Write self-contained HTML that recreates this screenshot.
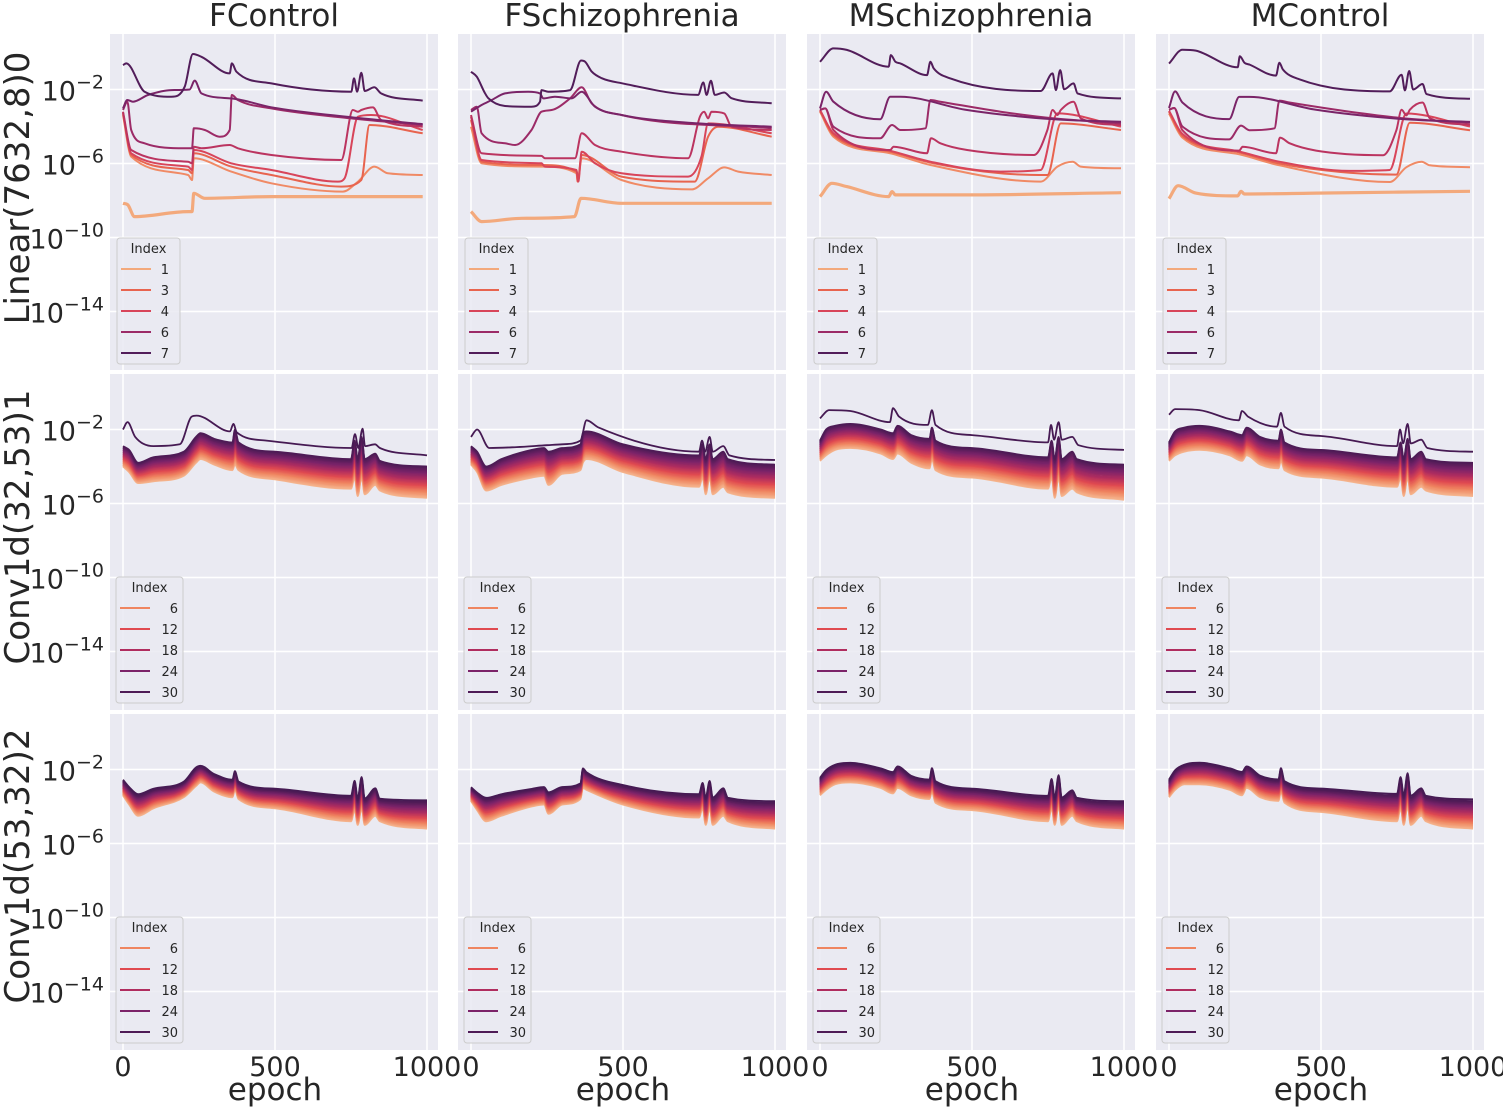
<!DOCTYPE html>
<html><head><meta charset="utf-8"><style>
html,body{margin:0;padding:0;background:#fff;}
svg{display:block;font-family:"DejaVu Sans","Liberation Sans",sans-serif;}
</style></head><body>
<svg id="chart" width="1503" height="1107" viewBox="0 0 1503 1107" xmlns="http://www.w3.org/2000/svg"></svg>
<script>
// ---------- DATA ----------
const COLUMNS = ["FControl","FSchizophrenia","MSchizophrenia","MControl"];
const ROW_LABELS = ["Linear(7632,8)0","Conv1d(32,53)1","Conv1d(53,32)2"];
const Y_TICKS = [-2,-6,-10,-14];
const X_TICKS = [0,500,1000];
const X_TICK_LABELS = ["0","500","1000"];
const LIN_LEGEND = ["1","3","4","6","7"];
const LIN_LEGEND_IDX = [0,2,3,5,7];
const CONV_LEGEND = ["6","12","18","24","30"];
const CONV_LEGEND_IDX = [6,12,18,24,30];

// Linear layer, log10 values per index line (0..7)
const FC_LIN_E = [
 [0,16,38,214,227,233,269,488,986],
 [0,27,214,227,233,356,488,723,773,827,871,986],
 [0,27,214,227,233,356,488,718,784,811,986],
 [0,27,214,227,233,356,488,707,729,773,816,986],
 [0,27,214,227,233,258,351,378,488,718,756,773,784,822,849,986],
 [0,14,27,71,203,227,233,269,318,351,358,378,488,751,986],
 [0,14,33,82,159,219,236,258,356,488,751,986],
 [0,11,71,159,203,230,258,351,358,373,488,751,760,770,784,795,827,849,986]];
const FC_LIN_V = [
 [-8.15,-8.24,-8.87,-8.6,-8.6,-7.61,-7.88,-7.79,-7.79],
 [-3.38,-5.63,-6.62,-6.89,-5.72,-6.44,-7.07,-7.52,-6.98,-6.17,-6.53,-6.62],
 [-3.29,-5.54,-6.35,-6.53,-5.45,-6.17,-6.62,-7.25,-6.89,-3.92,-4.37],
 [-3.25,-5.45,-6.17,-6.35,-5.27,-5.99,-6.35,-6.98,-6.8,-3.47,-3.38,-4.19],
 [-3.2,-5.27,-5.9,-5.99,-5.09,-5.18,-5.0,-5.18,-5.54,-5.81,-3.11,-3.2,-3.11,-2.97,-3.65,-4.01],
 [-3.11,-2.66,-4.19,-4.91,-5.18,-5.18,-4.1,-4.19,-4.55,-4.19,-2.3,-2.57,-3.02,-3.56,-3.92],
 [-3.02,-2.57,-2.66,-2.3,-2.03,-2.0,-1.52,-2.21,-2.48,-2.96,-3.5,-3.87],
 [-0.68,-0.59,-2.12,-2.39,-1.85,-0.08,-0.23,-1.13,-0.59,-1.04,-1.67,-2.12,-1.4,-2.12,-1.09,-2.08,-1.88,-2.21,-2.6]];

const FS_LIN_E = [
 [0,35,167,340,362,495,989],
 [0,35,232,347,351,364,495,726,780,833,879,989],
 [0,35,232,347,351,364,495,736,780,813,989],
 [0,35,232,243,347,353,364,408,495,714,758,780,989],
 [0,35,232,243,342,364,408,495,714,753,767,780,791,833,857,989],
 [0,19,35,112,145,199,232,265,326,364,397,495,989],
 [0,35,68,112,188,227,238,276,331,364,408,495,747,989],
 [0,19,46,57,112,199,227,232,254,326,362,375,397,430,495,747,764,775,789,802,833,857,989]];
const FS_LIN_V = [
 [-8.6,-9.14,-8.96,-8.87,-7.88,-8.15,-8.15],
 [-4.01,-5.99,-6.17,-6.53,-6.98,-5.72,-6.89,-7.4,-6.8,-6.21,-6.44,-6.62],
 [-3.65,-5.9,-6.08,-6.44,-6.98,-5.54,-6.71,-6.98,-4.55,-4.01,-4.55],
 [-3.47,-5.81,-5.99,-6.17,-6.35,-6.98,-5.36,-5.99,-6.53,-6.71,-5.63,-3.83,-4.37],
 [-3.38,-5.45,-5.59,-5.72,-5.72,-4.37,-5.0,-5.36,-5.72,-3.47,-3.2,-3.56,-3.2,-3.29,-4.01,-4.19],
 [-3.11,-2.93,-4.37,-4.91,-5.0,-4.19,-3.2,-3.11,-2.48,-1.88,-2.75,-3.38,-4.1],
 [-3.2,-2.84,-2.57,-2.21,-2.12,-2.21,-2.48,-2.39,-2.48,-2.12,-2.93,-3.38,-3.83,-4.01],
 [-1.04,-1.31,-2.2,-2.47,-2.89,-2.93,-2.66,-2.03,-2.12,-2.03,-0.43,-0.49,-1.03,-1.39,-1.66,-2.29,-1.62,-2.29,-1.53,-2.29,-2.16,-2.47,-2.74]];

const MS_LIN_E = [
 [0,39,88,226,237,248,484,990],
 [0,44,231,363,726,781,831,858,990],
 [0,44,231,363,594,748,792,990],
 [0,44,231,363,594,726,781,990],
 [0,17,44,231,242,352,365,396,484,704,748,765,781,792,834,858,990],
 [0,17,44,198,237,264,347,363,396,594,770,990],
 [0,20,44,198,231,264,484,770,990],
 [0,44,88,226,233,248,264,352,363,374,429,726,765,776,790,803,834,847,990]];
const MS_LIN_V = [
 [-7.79,-7.07,-7.25,-7.79,-7.52,-7.7,-7.7,-7.58],
 [-3.2,-4.55,-5.45,-6.08,-6.98,-6.17,-5.9,-6.17,-6.26],
 [-3.14,-4.46,-5.36,-5.95,-6.53,-6.62,-3.83,-4.19],
 [-3.11,-4.37,-5.31,-5.9,-6.44,-6.35,-3.29,-4.01],
 [-3.11,-3.02,-4.19,-5.27,-5.09,-5.45,-4.64,-4.91,-5.27,-5.54,-4.19,-3.11,-3.38,-3.11,-2.66,-3.56,-3.92],
 [-3.11,-3.02,-4.01,-4.64,-3.92,-4.19,-4.1,-2.57,-2.66,-3.2,-3.56,-3.83],
 [-3.02,-2.12,-2.66,-3.61,-2.39,-2.39,-3.11,-3.61,-3.74],
 [-0.5,0.22,0.14,-0.77,-0.14,-0.5,-0.59,-1.22,-0.5,-0.86,-1.4,-2.08,-1.13,-2.03,-0.95,-1.99,-1.67,-2.21,-2.48]];

const MC_LIN_E = [
 [0,30,88,226,237,248,484,990],
 [0,44,231,363,726,781,831,858,990],
 [0,44,231,363,594,748,792,990],
 [0,44,231,363,594,726,781,990],
 [0,17,44,231,242,352,365,396,484,704,748,765,781,792,834,858,990],
 [0,17,44,198,237,264,347,363,396,594,770,990],
 [0,20,44,198,231,264,484,770,990],
 [0,44,88,226,233,248,264,352,363,374,429,726,765,776,790,803,834,847,990]];
const MC_LIN_V = [
 [-7.9,-7.2,-7.6,-7.75,-7.5,-7.65,-7.6,-7.5],
 [-3.3,-4.6,-5.5,-6.1,-7.0,-6.2,-5.9,-6.1,-6.2],
 [-3.2,-4.5,-5.4,-6.0,-6.5,-6.6,-3.8,-4.2],
 [-3.15,-4.4,-5.35,-5.9,-6.4,-6.35,-3.3,-4.0],
 [-3.1,-3.0,-4.2,-5.3,-5.1,-5.45,-4.6,-4.9,-5.3,-5.55,-4.2,-3.1,-3.4,-3.1,-2.7,-3.55,-3.9],
 [-3.1,-3.0,-4.0,-4.7,-3.95,-4.2,-4.1,-2.6,-2.7,-3.2,-3.55,-3.8],
 [-3.0,-2.1,-2.7,-3.6,-2.4,-2.4,-3.1,-3.6,-3.75],
 [-0.6,0.15,0.1,-0.8,-0.2,-0.55,-0.65,-1.25,-0.55,-0.9,-1.45,-2.1,-1.2,-2.05,-1.0,-2.0,-1.7,-2.25,-2.5]];

// Conv layers: band top / bottom (log10) at shared epochs, rank of each index inside band
const CONV_EPOCHS = [0,20,50,100,200,240,255,300,360,368,380,500,750,762,772,785,795,830,845,1000];
const RANK = [1,.97,.93,.9,.87,.83,.8,.77,.73,.7,.67,.63,.6,.57,.53,.5,.47,.43,.4,.37,.33,.3,.27,.23,.2,.17,.13,.1,.07,.03,0,-0.06];

const FC_C1_TOP = [-2.9,-3.1,-3.8,-3.5,-3.2,-2.4,-2.2,-2.5,-2.7,-2.0,-2.7,-3.2,-3.6,-2.6,-3.6,-2.4,-3.6,-3.3,-3.7,-4.0];
const FC_C1_BOT = [-4.0,-4.3,-4.9,-4.8,-4.5,-3.8,-3.6,-3.9,-4.2,-3.9,-4.2,-4.7,-5.2,-4.6,-5.6,-4.6,-5.5,-5.0,-5.3,-5.7];
const FC_C1_OUT_E = [0,15,40,100,187,226,242,352,363,374,472,752,763,774,788,796,829,845,1000];
const FC_C1_OUT_V = [-2.0,-1.6,-2.4,-2.9,-2.8,-1.3,-1.25,-2.1,-1.7,-2.15,-2.6,-3.0,-2.25,-3.0,-1.95,-2.9,-2.8,-3.0,-3.4];

const FS_C1_TOP = [-2.9,-3.2,-4.0,-3.6,-3.1,-3.0,-3.2,-3.0,-2.8,-2.2,-2.1,-2.8,-3.4,-2.8,-3.6,-2.8,-3.6,-3.2,-3.6,-3.9];
const FS_C1_BOT = [-3.9,-4.3,-5.3,-5.0,-4.6,-4.5,-5.0,-4.4,-4.2,-3.8,-3.6,-4.3,-5.1,-4.6,-5.5,-4.6,-5.5,-5.1,-5.4,-5.7];
const FS_C1_OUT_E = [0,20,60,150,250,300,360,380,420,750,760,770,785,795,830,850,1000];
const FS_C1_OUT_V = [-2.4,-2.0,-3.0,-2.95,-2.85,-2.8,-2.6,-1.5,-1.9,-3.2,-2.6,-3.2,-2.4,-3.2,-2.9,-3.4,-3.65];

const MS_C1_TOP = [-2.6,-2.0,-1.8,-1.7,-2.0,-2.2,-1.8,-2.3,-2.5,-1.9,-2.6,-3.0,-3.5,-2.6,-3.6,-2.4,-3.6,-3.2,-3.6,-3.9];
const MS_C1_BOT = [-3.7,-3.4,-3.1,-3.0,-3.3,-3.6,-3.3,-3.8,-4.1,-3.6,-4.2,-4.6,-5.2,-4.6,-5.7,-4.6,-5.6,-5.2,-5.4,-5.8];
const MS_C1_OUT_E = [0,30,100,230,240,260,355,368,380,500,750,760,770,785,795,830,850,1000];
const MS_C1_OUT_V = [-1.4,-0.95,-1.0,-1.6,-0.85,-1.3,-1.75,-0.95,-1.75,-2.3,-2.7,-1.75,-2.55,-1.6,-2.55,-2.4,-2.85,-3.1];

const MC_C1_TOP = [-2.7,-2.1,-1.9,-1.8,-2.1,-2.3,-1.9,-2.4,-2.6,-2.0,-2.7,-3.1,-3.5,-2.7,-3.6,-2.5,-3.6,-3.2,-3.6,-3.8];
const MC_C1_BOT = [-3.7,-3.4,-3.2,-3.1,-3.4,-3.7,-3.4,-3.9,-4.1,-3.7,-4.2,-4.6,-5.1,-4.6,-5.6,-4.6,-5.5,-5.1,-5.3,-5.6];
const MC_C1_OUT_E = [0,20,100,230,240,260,355,368,380,500,750,760,770,785,795,830,850,1000];
const MC_C1_OUT_V = [-1.2,-0.9,-0.95,-1.5,-1.0,-1.3,-1.85,-1.1,-1.85,-2.35,-2.9,-2.0,-2.75,-1.7,-2.75,-2.55,-3.0,-3.2];

const FC_C2_TOP = [-2.6,-3.0,-3.4,-3.1,-2.7,-1.95,-1.85,-2.3,-2.6,-2.15,-2.7,-3.1,-3.5,-2.7,-3.65,-2.5,-3.65,-3.1,-3.65,-3.75];
const FC_C2_BOT = [-3.4,-3.9,-4.5,-4.1,-3.5,-2.9,-2.7,-3.2,-3.5,-3.1,-3.6,-4.1,-4.8,-4.2,-5.0,-4.1,-5.0,-4.5,-4.8,-5.2];
const FS_C2_TOP = [-3.0,-3.3,-3.6,-3.4,-3.1,-3.0,-3.3,-3.0,-2.8,-2.0,-2.2,-2.9,-3.4,-2.8,-3.6,-2.7,-3.6,-3.1,-3.6,-3.8];
const FS_C2_BOT = [-3.7,-4.2,-4.8,-4.5,-4.0,-3.9,-4.4,-3.9,-3.6,-3.0,-3.1,-3.9,-4.6,-4.1,-5.0,-4.1,-5.0,-4.5,-4.8,-5.2];
const MS_C2_TOP = [-2.5,-2.1,-1.8,-1.7,-2.0,-2.2,-1.9,-2.4,-2.6,-2.0,-2.7,-3.1,-3.5,-2.6,-3.6,-2.4,-3.6,-3.2,-3.6,-3.8];
const MS_C2_BOT = [-3.4,-3.1,-2.8,-2.7,-3.0,-3.3,-3.0,-3.4,-3.6,-3.2,-3.8,-4.2,-4.8,-4.1,-5.0,-4.0,-5.0,-4.5,-4.8,-5.2];
const MC_C2_TOP = [-2.6,-2.1,-1.8,-1.7,-2.0,-2.2,-1.9,-2.4,-2.6,-2.0,-2.7,-3.1,-3.4,-2.5,-3.5,-2.3,-3.5,-3.1,-3.5,-3.7];
const MC_C2_BOT = [-3.5,-3.1,-2.8,-2.8,-3.1,-3.4,-3.0,-3.5,-3.7,-3.2,-3.8,-4.3,-4.8,-4.1,-5.0,-4.0,-5.0,-4.5,-4.8,-5.2];

// ---------- LAYOUT ----------
const NS = "http://www.w3.org/2000/svg";
const svg = document.getElementById("chart");
const COL_LEFT = [110,458,807,1156], PW = 328;
const ROW_TOP = [34,374,714], PH = 336;
const PX_PER_EPOCH = 0.304, PX_PER_DEC = 18.5;
function xS(c, e){ return COL_LEFT[c] + 13 + e*PX_PER_EPOCH; }
function yS(r, v){ return ROW_TOP[r] + 55.5 - (v + 2)*PX_PER_DEC; }
function mk(tag, attrs, parent){ const el=document.createElementNS(NS,tag); for(const k in attrs) el.setAttribute(k,attrs[k]); (parent||svg).appendChild(el); return el; }

const LIN_COLORS = ["#f3a97c","#f08a65","#e8644f","#d8455a","#bb3460","#9c2b67","#7a2468","#521d5a"];
const STOPS = [[0,[245,181,142]],[6,[239,133,96]],[12,[224,74,80]],[18,[176,45,95]],[24,[124,35,105]],[31,[70,26,83]]];
function convColor(i){
  for(let k=0;k<STOPS.length-1;k++){ const [a,ca]=STOPS[k],[b,cb]=STOPS[k+1];
    if(i>=a&&i<=b){ const t=(i-a)/(b-a); return "rgb("+ca.map((v,j)=>Math.round(v+(cb[j]-v)*t)).join(",")+")"; } }
  return "rgb(70,26,83)";
}
// monotone cubic path through the data points
function pathD(c, r, E, V){
  const X=E.map(e=>xS(c,e)), Y=V.map(v=>yS(r,v)), n=X.length;
  if(n<3) return X.map((x,i)=>(i?"L":"M")+x.toFixed(1)+","+Y[i].toFixed(1)).join("");
  const d=[], m=new Array(n);
  for(let i=0;i<n-1;i++) d.push((Y[i+1]-Y[i])/(X[i+1]-X[i]));
  m[0]=d[0]; m[n-1]=d[n-2];
  for(let i=1;i<n-1;i++){ m[i]=(d[i-1]*d[i]<=0)?0:(d[i-1]+d[i])/2; }
  for(let i=0;i<n-1;i++){ if(d[i]===0){m[i]=0;m[i+1]=0;continue;}
    const a=m[i]/d[i], b=m[i+1]/d[i], s=a*a+b*b; if(s>9){const t=3/Math.sqrt(s); m[i]=t*a*d[i]; m[i+1]=t*b*d[i];} }
  let p="M"+X[0].toFixed(1)+","+Y[0].toFixed(1);
  for(let i=0;i<n-1;i++){ const h=(X[i+1]-X[i])/3;
    p+="C"+(X[i]+h).toFixed(1)+","+(Y[i]+m[i]*h).toFixed(1)+" "+(X[i+1]-h).toFixed(1)+","+(Y[i+1]-m[i+1]*h).toFixed(1)+" "+X[i+1].toFixed(1)+","+Y[i+1].toFixed(1); }
  return p;
}

const LIN_E = [FC_LIN_E,FS_LIN_E,MS_LIN_E,MC_LIN_E], LIN_V = [FC_LIN_V,FS_LIN_V,MS_LIN_V,MC_LIN_V];
const C1_TOP=[FC_C1_TOP,FS_C1_TOP,MS_C1_TOP,MC_C1_TOP], C1_BOT=[FC_C1_BOT,FS_C1_BOT,MS_C1_BOT,MC_C1_BOT];
const C1_OE=[FC_C1_OUT_E,FS_C1_OUT_E,MS_C1_OUT_E,MC_C1_OUT_E], C1_OV=[FC_C1_OUT_V,FS_C1_OUT_V,MS_C1_OUT_V,MC_C1_OUT_V];
const C2_TOP=[FC_C2_TOP,FS_C2_TOP,MS_C2_TOP,MC_C2_TOP], C2_BOT=[FC_C2_BOT,FS_C2_BOT,MS_C2_BOT,MC_C2_BOT];

const defs = mk("defs",{});
for(let r=0;r<3;r++){
  for(let c=0;c<4;c++){
    const cp = mk("clipPath",{id:"cp"+r+c},defs);
    mk("rect",{x:COL_LEFT[c],y:ROW_TOP[r],width:PW,height:PH},cp);
    const g = mk("g",{});
    
    
    const bg = mk("rect",{x:COL_LEFT[c],y:ROW_TOP[r],width:PW,height:PH,fill:"#eaeaf2"},g);
    
    
    Y_TICKS.forEach(v=>{ const ln=mk("line",{x1:COL_LEFT[c],x2:COL_LEFT[c]+PW,y1:yS(r,v),y2:yS(r,v),stroke:"#fff","stroke-width":1.5},g);
      
       });
    X_TICKS.forEach(e=>{ const ln=mk("line",{x1:xS(c,e),x2:xS(c,e),y1:ROW_TOP[r],y2:ROW_TOP[r]+PH,stroke:"#fff","stroke-width":1.5},g);
      
       });
    const lg = mk("g",{"clip-path":"url(#cp"+r+c+")"},g);
    if(r===0){
      for(let i=0;i<8;i++){
        const p = mk("path",{d:pathD(c,r,LIN_E[c][i],LIN_V[c][i]),fill:"none",stroke:LIN_COLORS[i],"stroke-width":i===0?3.2:2,"stroke-linejoin":"round"},lg);
        
        
      }
    } else {
      const TOP = r===1?C1_TOP[c]:C2_TOP[c], BOT = r===1?C1_BOT[c]:C2_BOT[c];
      for(let i=0;i<32;i++){
        let E=CONV_EPOCHS, V;
        if(r===1 && i===31){ E=C1_OE[c]; V=C1_OV[c]; }
        else V = CONV_EPOCHS.map((e,k)=>TOP[k]-(TOP[k]-BOT[k])*RANK[i]);
        const p = mk("path",{d:pathD(c,r,E,V),fill:"none",stroke:convColor(i),"stroke-width":1.8,"stroke-linejoin":"round"},lg);
        
        
      }
    }
    // legend
    const lx = COL_LEFT[c]+(r===0?7:6), ly = ROW_TOP[r]+(r===0?204:203), lw = r===0?63:67;
    const leg = mk("g",{},g);
    
    
    mk("rect",{x:lx,y:ly,width:lw,height:126,rx:3,fill:"#eaeaf2","fill-opacity":0.85,stroke:"#cccccc","stroke-width":1},leg);
    const tt = mk("text",{x:lx+lw/2,y:ly+15,"text-anchor":"middle","font-size":13,fill:"#262626"},leg);
    tt.textContent="Index";
    
    
    const labs = r===0?LIN_LEGEND:CONV_LEGEND;
    for(let k=0;k<5;k++){
      const yy = ly+31+k*21;
      const col = r===0?LIN_COLORS[LIN_LEGEND_IDX[k]]:convColor(CONV_LEGEND_IDX[k]);
      const ent = mk("g",{},leg);
      
      
      mk("line",{x1:lx+4,x2:lx+34,y1:yy,y2:yy,stroke:col,"stroke-width":2},ent);
      const t = mk("text",{x:r===0?lx+52:lx+62,y:yy+5,"text-anchor":"end","font-size":13,fill:"#262626"},ent);
      t.textContent = labs[k];
    }
  }
}
// titles
COLUMNS.forEach((n,c)=>{ const t=mk("text",{x:COL_LEFT[c]+PW/2,y:26,"text-anchor":"middle","font-size":31,fill:"#262626"});
  t.textContent=n;
  
   });
// row labels + y ticks
const LABEL_CY = [188,527,866];
ROW_LABELS.forEach((n,r)=>{
  Y_TICKS.forEach(v=>{
    const tk=mk("text",{x:104,y:yS(r,v)+11,"text-anchor":"end","font-size":27,fill:"#262626"});
    
    
    tk.appendChild(document.createTextNode("10"));
    const s=mk("tspan",{dy:-12,"font-size":19},tk); s.textContent="\u2212"+(-v);
  });
  const t=mk("text",{x:0,y:0,"text-anchor":"middle","font-size":34,fill:"#262626",transform:"translate(29,"+LABEL_CY[r]+") rotate(-90)"});
  t.textContent=n;
  
  
});
// x ticks + titles
for(let c=0;c<4;c++){
  X_TICKS.forEach((e,k)=>{ const t=mk("text",{x:xS(c,e),y:1076,"text-anchor":"middle","font-size":27,fill:"#262626"});
    t.textContent=X_TICK_LABELS[k];
    
     });
  const t=mk("text",{x:xS(c,500),y:1100,"text-anchor":"middle","font-size":31,fill:"#262626"});
  t.textContent="epoch";
  
  
}
</script>
</body></html>
